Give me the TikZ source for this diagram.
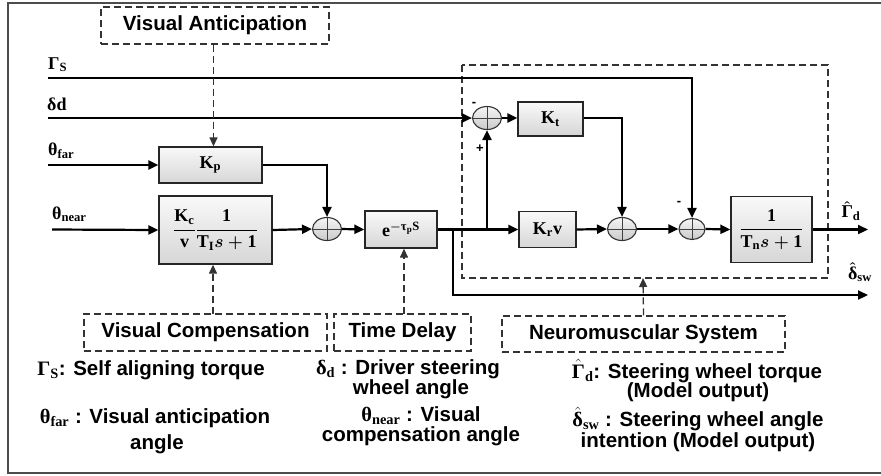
\documentclass[tikz,border=0pt]{standalone}
\usepackage{amsmath}
\usepackage{fontspec}
\setmainfont{Liberation Sans}
\newfontfamily\sy{Liberation Serif}
\usetikzlibrary{shapes.geometric,arrows.meta}
\newcommand\SY[1]{\text{\sy\bfseries #1}}
\begin{document}
\begin{tikzpicture}[x=1pt,y=-1pt,
  every node/.style={font=\fontsize{20.5}{24}\selectfont\bfseries},
  blk/.style={draw=black!85, line width=1.3pt, top color=gray!5, bottom color=gray!32, inner sep=0pt,
    font=\fontsize{18}{22}\selectfont\boldmath},
  sumj/.style={ellipse, draw=black!80, line width=1.1pt, top color=gray!8, bottom color=gray!42, inner sep=0pt,
    minimum width=29pt, minimum height=23pt,
    path picture={\draw[line width=0.9pt, black!75] (path picture bounding box.north) -- (path picture bounding box.south)
      (path picture bounding box.west) -- (path picture bounding box.east);}},
  dsh/.style={draw=black!80, line width=1.3pt, dash pattern=on 7pt off 4pt},
  lbox/.style={dsh, inner sep=0pt},
  sig/.style={line width=2.2pt, -{Triangle[length=10pt,width=9pt]}},
  dar/.style={dsh, -{Triangle[length=9pt,width=8pt]}},
  lab/.style={font=\fontsize{18}{22}\selectfont\boldmath, inner sep=0pt},
  sgn/.style={font=\fontsize{13}{14}\selectfont\bfseries, inner sep=0pt},
  leg/.style={inner sep=0pt, align=center}]
\useasboundingbox (0,0) rectangle (881,475);
\draw[line width=1.6pt, black!70] (8,3) rectangle (900,473);

% label boxes
\node[lbox, minimum width=228pt, minimum height=37pt] (va) at (215,25.5) {Visual Anticipation};
\node[lbox, minimum width=243pt, minimum height=37pt] (vc) at (205.5,332.5) {Visual Compensation};
\node[lbox, minimum width=137pt, minimum height=37pt] (td) at (402.5,332.5) {Time Delay};
\node[lbox, minimum width=283pt, minimum height=36pt] (nm) at (643.5,334) {Neuromuscular System};
\draw[dsh] (462,65) rectangle (828,278);
\coordinate (nmb) at (643,278);

% blocks
\node[blk, minimum width=103pt, minimum height=36pt] (kp) at (210.5,165) {$\SY{K}_{\SY{p}}$};
\node[blk, minimum width=113pt, minimum height=68pt] (kc) at (215.5,230)
  {$\dfrac{\SY{K}_{\SY{c}}}{\SY{v}}\dfrac{\SY{1}}{\SY{T}_{\SY{I}}s+\SY{1}}$};
\node[sumj] (s0) at (327,229) {};
\node[blk, minimum width=72pt, minimum height=37pt] (dly) at (401,229.5) {$\SY{e}^{-\SY{τ}_{\SY{p}}\SY{S}}$};
\node[sumj] (s1) at (487,118) {};
\node[blk, minimum width=65pt, minimum height=34pt] (kt) at (550.5,119) {$\SY{K}_{\SY{t}}$};
\node[blk, minimum width=57pt, minimum height=36pt] (krv) at (547.5,229.5) {$\SY{K}_{\SY{r}}\SY{v}$};
\node[sumj] (s2) at (622,229) {};
\node[sumj, minimum width=26pt, minimum height=21pt] (s3) at (692,229) {};
\node[blk, minimum width=81pt, minimum height=66pt] (tn) at (771.5,229.5)
  {$\dfrac{\SY{1}}{\SY{T}_{\SY{n}}s+\SY{1}}$};

% inputs / free ends
\coordinate (gin) at (48,78);
\coordinate (din) at (48,118);
\coordinate (fin) at (48,165);
\coordinate (nin) at (52,229.5);
\coordinate (gout) at (868,229.5);
\coordinate (dout) at (868,295);
\coordinate (b1) at (453,229.5);
\coordinate (b1d) at (453,295);
\coordinate (b2) at (487,229.5);

\node[lab, anchor=south west] (lg) at (48,72) {$\SY{Γ}_{\SY{S}}$};
\node[lab, anchor=south west] (ld) at (47,111) {$\SY{δd}$};
\node[lab, anchor=south west] (lf) at (48,159) {$\SY{θ}_{\SY{far}}$};
\node[lab, anchor=south west] (ln) at (52,222) {$\SY{θ}_{\SY{near}}$};
\node[lab] (lgd) at (851,211) {$\hat{\SY{Γ}}_{\SY{d}}$};
\node[lab] (lds) at (860,272) {$\hat{\SY{δ}}_{\SY{sw}}$};

\node[sgn] (m1) at (474,104) {-};
\node[sgn] (p1) at (480,149) {+};
\node[sgn] (m2) at (679,203) {-};

% connectors
\draw[sig] (gin) -| (s3.north);
\draw[sig] (din) -- (s1.west);
\draw[sig] (fin) -- (kp.west);
\draw[sig] (nin) -- (kc.west);
\draw[sig] (kp.east) -| (s0.north);
\draw[sig] (kc.east) -- (s0.west);
\draw[sig] (s0.east) -- (dly.west);
\draw[sig] (dly.east) -- (krv.west);
\draw[sig] (b1) -- (b1d) -- (dout);
\draw[sig] (b2) -- (s1.south);
\draw[sig] (s1.east) -- (kt.west |- s1.east);
\draw[sig] (kt.east |- s1.east) -| (s2.north);
\draw[sig] (krv.east) -- (s2.west);
\draw[sig] (s2.east) -- (s3.west);
\draw[sig] (s3.east) -- (tn.west);
\draw[sig] (tn.east) -- (gout);

\draw[dar] (va.south -| kp.north) ++(3,0) coordinate (vat) -- (vat |- kp.north);
\draw[dar] (213,314) coordinate (vcb) -- (vcb |- kc.south);
\draw[dar] (404,314) coordinate (tdb) -- (tdb |- dly.south);
\draw[dar] (nm.north) -- (nmb);

% legend
\node[leg] (l1) at (151,370) {$\SY{Γ}_{\SY{S}}$\textbf{:} Self aligning torque};
\node[leg] (l2a) at (155,418) {$\SY{θ}_{\SY{far}}$ : Visual anticipation};
\node[leg] (l2b) at (157,444) {angle};
\node[leg] (l3a) at (408,369) {$\SY{δ}_{\SY{d}}$ : Driver steering};
\node[leg] (l3b) at (411,389) {wheel angle};
\node[leg] (l4a) at (421,416) {$\SY{θ}_{\SY{near}}$ : Visual};
\node[leg] (l4b) at (421,436) {compensation angle};
\node[leg] (l5a) at (697,371) {$\hat{\SY{Γ}}_{\SY{d}}$: Steering wheel torque};
\node[leg] (l5b) at (698,392) {(Model output)};
\node[leg] (l6a) at (698,419) {$\hat{\SY{δ}}_{\SY{sw}}$ : Steering wheel angle};
\node[leg] (l6b) at (698,442) {intention (Model output)};
\end{tikzpicture}
\end{document}
